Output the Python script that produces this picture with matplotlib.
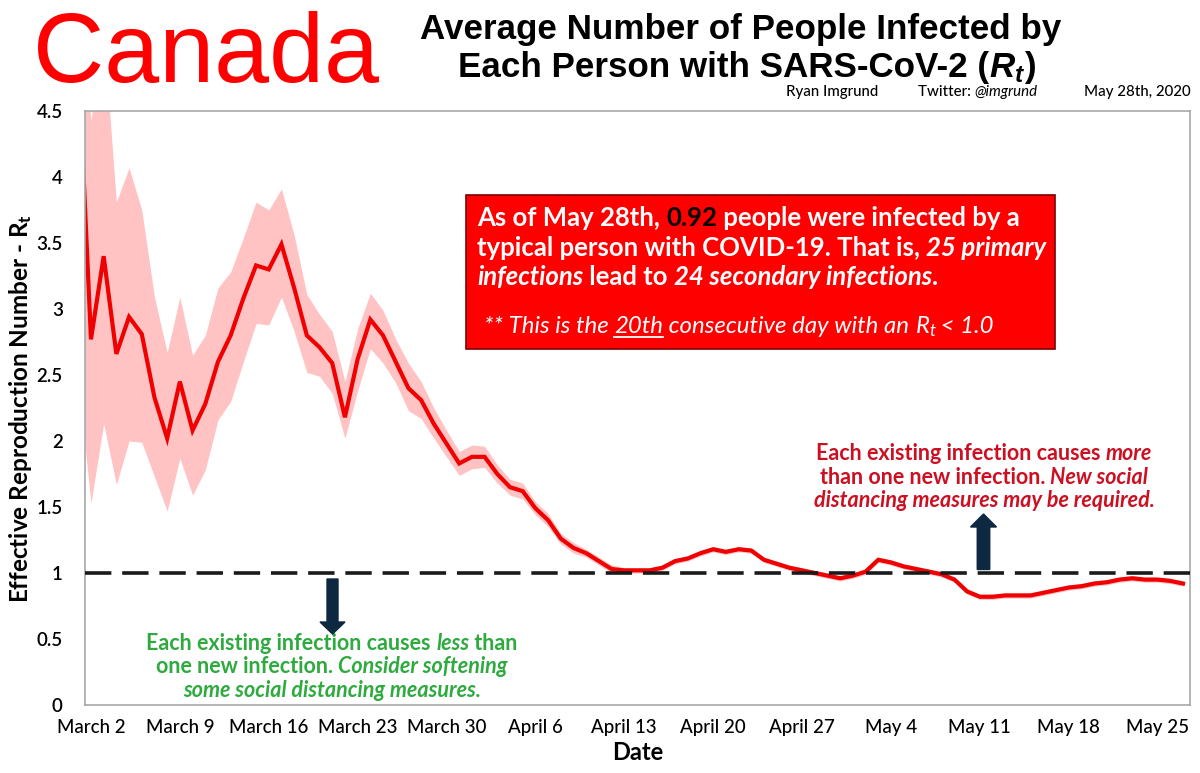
import matplotlib
matplotlib.use("Agg")
import matplotlib.pyplot as plt
import matplotlib.patches as mpatches
import matplotlib.lines as mlines
from matplotlib.transforms import IdentityTransform
import pandas as pd

plt.rcParams['font.family'] = ['Lato', 'DejaVu Sans']

# ---------------- data ----------------
start_date = "2020-03-01"
rt = [4.90, 2.77, 3.40, 2.66, 2.94, 2.81, 2.33, 2.02, 2.45, 2.08,
      2.28, 2.60, 2.80, 3.08, 3.33, 3.30, 3.49, 3.16, 2.80, 2.71,
      2.59, 2.18, 2.62, 2.92, 2.80, 2.60, 2.40, 2.31, 2.13, 1.98,
      1.83, 1.88, 1.88, 1.75, 1.65, 1.62, 1.49, 1.40, 1.26, 1.19,
      1.15, 1.09, 1.03, 1.02, 1.02, 1.02, 1.04, 1.09, 1.11, 1.15,
      1.18, 1.16, 1.18, 1.17, 1.10, 1.07, 1.04, 1.02, 1.00, 0.98,
      0.96, 0.98, 1.01, 1.10, 1.08, 1.05, 1.03, 1.01, 0.99, 0.95,
      0.86, 0.82, 0.82, 0.83, 0.83, 0.83, 0.85, 0.87, 0.89, 0.90,
      0.92, 0.93, 0.95, 0.96, 0.95, 0.95, 0.94, 0.92]
rt_upper = [5.50, 4.43, 5.10, 3.81, 4.07, 3.75, 3.09, 2.67, 3.09, 2.65,
            2.80, 3.16, 3.28, 3.54, 3.81, 3.75, 3.91, 3.56, 3.11, 2.96,
            2.83, 2.45, 2.85, 3.12, 2.99, 2.77, 2.59, 2.45, 2.25, 2.08,
            1.92, 1.97, 1.96, 1.82, 1.71, 1.68, 1.54, 1.45, 1.30, 1.23,
            1.18, 1.12, 1.06, 1.04, 1.04, 1.04, 1.06, 1.11, 1.13, 1.17,
            1.20, 1.18, 1.20, 1.19, 1.12, 1.09, 1.06, 1.04, 1.02, 1.00,
            0.98, 1.00, 1.03, 1.12, 1.10, 1.07, 1.05, 1.03, 1.01, 0.97,
            0.88, 0.84, 0.84, 0.85, 0.85, 0.85, 0.87, 0.89, 0.91, 0.92,
            0.94, 0.95, 0.97, 0.98, 0.97, 0.97, 0.96, 0.94]
rt_lower = [2.44, 1.53, 2.13, 1.67, 2.00, 1.99, 1.73, 1.47, 1.87, 1.59,
            1.78, 2.16, 2.30, 2.60, 2.89, 2.88, 3.09, 2.83, 2.52, 2.49,
            2.36, 2.02, 2.38, 2.70, 2.59, 2.44, 2.23, 2.17, 2.02, 1.88,
            1.74, 1.79, 1.80, 1.68, 1.59, 1.56, 1.44, 1.35, 1.22, 1.15,
            1.12, 1.06, 1.00, 1.00, 1.00, 1.00, 1.02, 1.07, 1.09, 1.13,
            1.16, 1.14, 1.16, 1.15, 1.08, 1.05, 1.02, 1.00, 0.98, 0.96,
            0.94, 0.96, 0.99, 1.08, 1.06, 1.03, 1.01, 0.99, 0.97, 0.93,
            0.84, 0.80, 0.80, 0.81, 0.81, 0.81, 0.83, 0.85, 0.87, 0.88,
            0.90, 0.91, 0.93, 0.94, 0.93, 0.93, 0.92, 0.90]
tick_start = "2020-03-02"
tick_labels = ["March 2", "March 9", "March 16", "March 23", "March 30",
               "April 6", "April 13", "April 20", "April 27", "May 4",
               "May 11", "May 18", "May 25"]
y_ticks = [0, 0.5, 1, 1.5, 2, 2.5, 3, 3.5, 4, 4.5]
y_tick_labels = ["0", "0.5", "1", "1.5", "2", "2.5", "3", "3.5", "4", "4.5"]
threshold = 1.0

# ---------------- figure ----------------
W, H = 1200, 773
fig = plt.figure(figsize=(W / 100, H / 100), dpi=100)
fig.patch.set_facecolor("white")
renderer = fig.canvas.get_renderer()

ax = fig.add_axes([85 / W, 1 - 705 / H, (1190 - 85) / W, (705 - 111) / H])
dates = pd.date_range(start_date, periods=len(rt))
ax.fill_between(dates, rt_lower, rt_upper, color="#FFC3C3", lw=0, zorder=1)
ax.plot(dates, rt, color="#F00000", lw=3.0, zorder=2, solid_joinstyle="miter")
ax.axhline(threshold, color="#1a1a1a", lw=2.6, dashes=(7.3, 3.0), zorder=3)

ax.set_ylim(0, 4.5)
ax.set_xlim(dates[0] + pd.Timedelta(days=0.53), dates[0] + pd.Timedelta(days=87.55))
ax.set_yticks(y_ticks)
ax.set_yticklabels(y_tick_labels, fontsize=13.5, fontweight="semibold")
tick_dates = pd.date_range(tick_start, periods=len(tick_labels), freq="7D")
ax.set_xticks(tick_dates)
ax.set_xticklabels(tick_labels, fontsize=13.5, fontweight="medium")
ax.tick_params(axis="y", length=0, pad=16)
ax.tick_params(axis="x", length=0, pad=10)
for sp in ax.spines.values():
    sp.set_color("#A8A8A8")
    sp.set_linewidth(1.2)
ax.set_ylabel(r"Effective Reproduction Number - $\mathregular{R_t}$",
              fontsize=17.5, fontweight="bold")
ax.yaxis.set_label_coords((34 - 85) / (1190 - 85), 0.5)
ax.set_xlabel("Date", fontsize=17, fontweight="bold", labelpad=4)


# ---------------- rich text helpers ----------------
def measure(s, kw):
    t = fig.text(0, 0, "|" + s + "|", **kw)
    w1 = t.get_window_extent(renderer).width
    t.remove()
    t = fig.text(0, 0, "||", **kw)
    w2 = t.get_window_extent(renderer).width
    t.remove()
    return w1 - w2


def fit_size(pieces, target, base=12.0):
    total = sum(measure(s, {**kw, "fontsize": base}) for s, kw in pieces)
    return base * target / total


def place_line(x, y, pieces, size, ha="left"):
    widths = [measure(s, {**kw, "fontsize": size}) for s, kw in pieces]
    total = sum(widths)
    if ha == "center":
        x0 = x - total / 2
    elif ha == "right":
        x0 = x - total
    else:
        x0 = x
    out = []
    for (s, kw), w in zip(pieces, widths):
        fig.text(x0 / W, 1 - y / H, s, ha="left", va="baseline", fontsize=size, **kw)
        out.append((x0, w))
        x0 += w
    return out


# ---------------- header ----------------
fig.text(33 / W, 1 - 82 / H, "Canada", color="#FF0000", fontsize=71,
         family=["Liberation Sans"], ha="left", va="baseline")

TB = dict(family=["Liberation Sans", "DejaVu Sans"], fontweight="bold", color="black")
TBI = dict(TB, style="italic")
t1 = [("Average Number of People Infected by", TB)]
t2 = [("Each Person with SARS-CoV-2 (", TB), (r"$\mathregular{R_t}$", TBI), (")", TB)]
ts = fit_size(t1, 638)
place_line(741, 39, t1, ts, ha="center")
place_line(747, 77, t2, ts, ha="center")

CR = dict(color="black", fontweight="medium")
CRI = dict(color="black", style="italic")
c1 = [("Ryan Imgrund", CR)]
c2 = [("Twitter: ", CR), ("@imgrund", CRI)]
c3 = [("May 28th, 2020", CR)]
cs = min(fit_size(c1, 101), fit_size(c2, 134), fit_size(c3, 106))
place_line(786, 96, c1, cs)
place_line(918, 96, c2, cs)
place_line(1191, 96, c3, cs, ha="right")

# ---------------- red info box ----------------
box = mpatches.Rectangle((466, H - 349), 589, 154, transform=IdentityTransform(),
                         facecolor="#FF0000", edgecolor="#7A0000", lw=1.2, zorder=4)
fig.add_artist(box)

WB = dict(color="white", fontweight="bold", zorder=5)
WBI = dict(WB, style="italic")
KB = dict(color="black", fontweight="bold", zorder=5)
WL = dict(color="white", fontweight="normal", style="italic", zorder=5)
b1 = [("As of May 28th, ", WB), ("0.92", KB), (" people were infected by a", WB)]
b2 = [("typical person with COVID-19. That is, ", WB), ("25 primary", WBI)]
b3 = [("infections", WBI), (" lead to ", WB), ("24 secondary infections", WBI), (".", WB)]
bs = min(fit_size(b1, 566), fit_size(b2, 566), fit_size(b3, 480))
place_line(477, 226, b1, bs)
place_line(477, 256, b2, bs)
place_line(477, 285, b3, bs)
b4 = [("** This is the ", WL), ("20th", WL), (" consecutive day with an ", WL),
      (r"$\mathregular{R_t}$", WL), (" < 1.0", WL)]
b4s = fit_size(b4, 510)
pos4 = place_line(484, 333, b4, b4s)
ux, uw = pos4[1]
fig.add_artist(mlines.Line2D([ux, ux + uw], [H - 336.5, H - 336.5], transform=IdentityTransform(),
                             color="white", lw=1.3, zorder=6))

# ---------------- annotations ----------------
GREEN = "#2EAA3F"
GB = dict(color=GREEN, fontweight="bold")
GBI = dict(GB, style="italic")
g1 = [("Each existing infection causes ", GB), ("less", GBI), (" than", GB)]
g2 = [("one new infection. ", GB), ("Consider softening", GBI)]
g3 = [("some social distancing measures.", GBI)]
gs = fit_size(g1, 370)
place_line(332, 650, g1, gs, ha="center")
place_line(332, 673, g2, gs, ha="center")
place_line(332, 697, g3, gs, ha="center")

RED = "#CC1022"
RB = dict(color=RED, fontweight="bold")
RBI = dict(RB, style="italic")
r1 = [("Each existing infection causes ", RB), ("more", RBI)]
r2 = [("than one new infection. ", RB), ("New social", RBI)]
r3 = [("distancing measures may be required.", RBI)]
rs = fit_size(r1, 335)
place_line(984, 460, r1, rs, ha="center")
place_line(984, 484, r2, rs, ha="center")
place_line(984, 507, r3, rs, ha="center")

NAVY = "#0E2841"
down = mpatches.FancyArrow(332.5, H - 579, 0, -55, width=11, head_width=25, head_length=12,
                           length_includes_head=True, transform=IdentityTransform(),
                           color=NAVY, zorder=6)
up = mpatches.FancyArrow(983.5, H - 569.5, 0, 55.5, width=12.5, head_width=26, head_length=13,
                         length_includes_head=True, transform=IdentityTransform(),
                         color=NAVY, zorder=6)
fig.add_artist(down)
fig.add_artist(up)

fig.savefig("out.png", dpi=100, facecolor="white")
